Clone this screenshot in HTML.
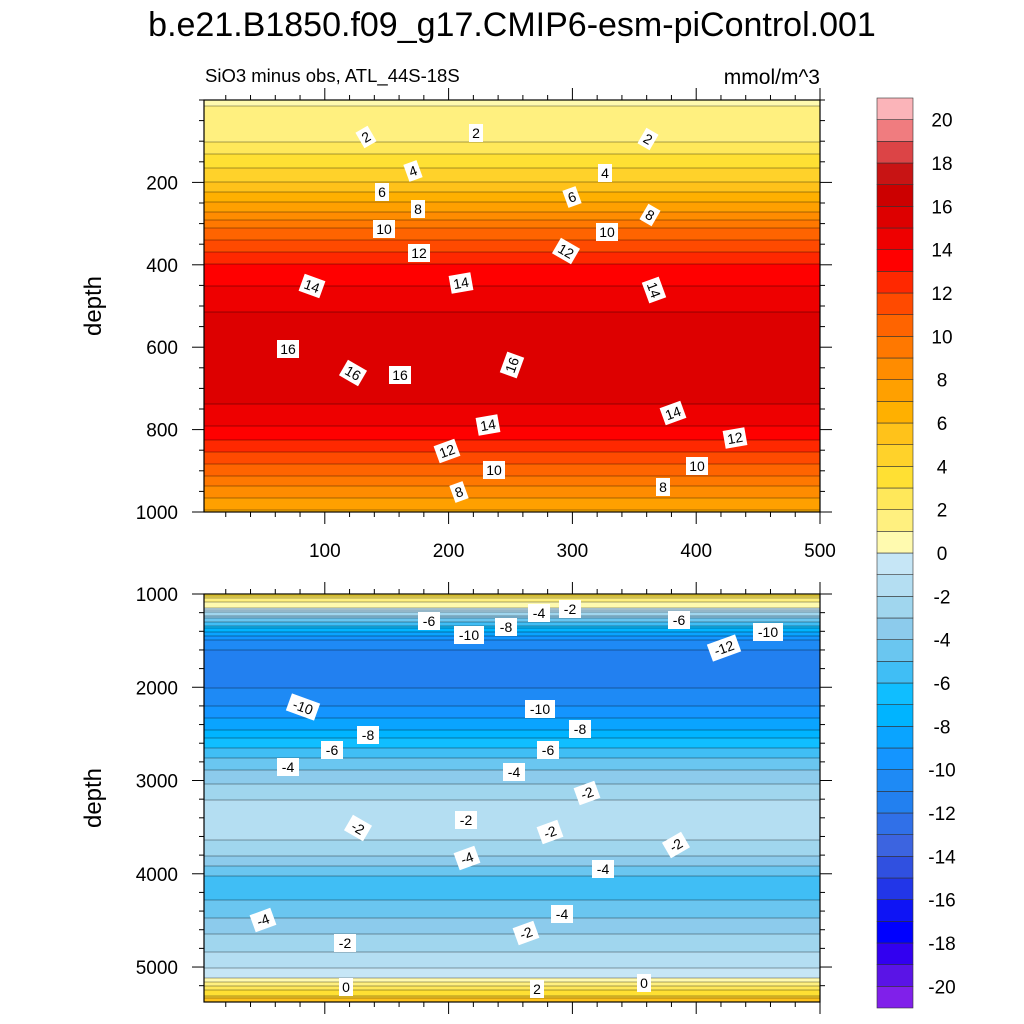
<!DOCTYPE html>
<html><head><meta charset="utf-8">
<style>
body{margin:0;background:#fff;}
svg{display:block;font-family:"Liberation Sans",sans-serif;}
</style></head>
<body>
<svg id="chart" width="1024" height="1024" viewBox="0 0 1024 1024">
<text x="512" y="36" text-anchor="middle" font-size="34">b.e21.B1850.f09_g17.CMIP6-esm-piControl.001</text>
<text x="205" y="82" font-size="18.5">SiO3 minus obs, ATL_44S-18S</text>
<text x="820" y="84" text-anchor="end" font-size="21">mmol/m^3</text>
<g id="top"></g>
<g id="bot"></g>
<g id="cbar"></g>
<text transform="translate(101,306) rotate(-90)" text-anchor="middle" font-size="24">depth</text>
<text transform="translate(101,798) rotate(-90)" text-anchor="middle" font-size="24">depth</text>
<g id="labels"></g>
</svg>
<script>
// colour levels from -21 to 21 (one unit each, bottom to top)
const levelColors = ["#8020EA","#5A14E6","#3200F0","#0000FF","#0E14F5","#2236E8","#3050E0","#3C64E0","#3070E8","#2280F0","#1E8AF5","#1495FF","#0AA4FF","#00B4FF","#10BEFF","#40BEF5","#6AC6F0","#8CCBEC","#A0D6EE","#B4DEF2","#C6E6F6",
"#FFFAAF","#FFF07F","#FFE85A","#FFE033","#FFD22A","#FFC21A","#FFB000","#FFA000","#FF8C00","#FF7800","#FF6400","#FF4A00","#FF2800","#FF0000","#EE0000","#DD0000","#CC0000","#C81414","#DC4446","#F07C7F","#FBB4B9"];
const cbarTicks = [20,18,16,14,12,10,8,6,4,2,0,-2,-4,-6,-8,-10,-12,-14,-16,-18,-20];
const topDepths = [0,25,100,150,200,250,300,350,400,450,500,550,600,650,700,750,800,850,900,950,1000];
const topValues = [0.8,1.2,2,3.5,5,7,9.5,11.5,13,14,14.8,15.5,15.95,15.9,15.5,14.8,13.8,12.2,10.5,8.5,6.8];
const botDepths = [1000,1080,1140,1200,1300,1400,1500,1700,1800,1900,2000,2200,2400,2600,2800,3000,3200,3400,3600,3800,4000,4100,4200,4400,4600,4800,5000,5100,5150,5200,5300,5375];
const botValues = [4,1,0,-2,-5,-8,-10,-11.8,-11.9,-11.5,-11,-10,-8.5,-6.5,-4.5,-3.2,-2,-1.6,-1.8,-3,-4.8,-5.7,-5.4,-4.5,-3.3,-2.2,-1,-0.3,0.5,2,4,6];
const xTicks = [100,200,300,400,500];

const NS="http://www.w3.org/2000/svg";
function mk(tag,attrs,parent){const e=document.createElementNS(NS,tag);for(const k in attrs)e.setAttribute(k,attrs[k]);parent.appendChild(e);return e;}
const X0=204,X1=820;
const xScale=v=>201+v*1.238;
function interp(ds,vs,d){if(d<=ds[0])return vs[0];for(let i=1;i<ds.length;i++){if(d<=ds[i]){const t=(d-ds[i-1])/(ds[i]-ds[i-1]);return vs[i-1]+t*(vs[i]-vs[i-1]);}}return vs[vs.length-1];}
function colorFor(v){let i=Math.floor(v)+21;i=Math.max(0,Math.min(41,i));return levelColors[i];}

function panel(g,yTop,yBot,d0,d1,ds,vs,yTickVals,minorStep,xLabels){
  const ys=d=>yTop+(d-d0)/(d1-d0)*(yBot-yTop);
  let prev=null;
  for(let y=yTop;y<yBot;y+=2){
    const d=d0+(y+1-yTop)/(yBot-yTop)*(d1-d0);
    const v=interp(ds,vs,d);
    const r=mk('rect',{x:X0,y:y,width:X1-X0,height:2.3,fill:colorFor(v)},g);
    
    
    if(prev!==null&&Math.floor(prev)!==Math.floor(v)){
      const l=mk('line',{x1:X0,x2:X1,y1:y,y2:y,stroke:"#000","stroke-width":0.5,"stroke-opacity":0.7},g);
      
      
    }
    prev=v;
  }
  mk('rect',{x:X0,y:yTop,width:X1-X0,height:yBot-yTop,fill:"none",stroke:"#000","stroke-width":1.2},g);
  for(let d=d0-(d0%minorStep);d<=d1;d+=minorStep){
    if(d<d0)continue;
    const y=ys(d);const major=yTickVals.includes(d);
    mk('line',{x1:X0-(major?12:5),x2:X0,y1:y,y2:y,stroke:"#000"},g);
    mk('line',{x1:X1,x2:X1+(major?12:5),y1:y,y2:y,stroke:"#000"},g);
    if(major){const t=mk('text',{x:178,y:y+7,"text-anchor":"end","font-size":19},g);t.textContent=d;
      }
  }
  for(let xv=20;xv<=500;xv+=20){
    const x=xScale(xv);if(x<X0)continue;const major=xv%100===0;
    mk('line',{x1:x,x2:x,y1:yBot,y2:yBot+(major?12:5),stroke:"#000"},g);
    mk('line',{x1:x,x2:x,y1:yTop,y2:yTop-(major?12:5),stroke:"#000"},g);
  }
  if(xLabels){xTicks.forEach(xv=>{const t=mk('text',{x:xScale(xv),y:yBot+45,"text-anchor":"middle","font-size":19},g);t.textContent=xv;
    });}
}
panel(document.getElementById('top'),100,512,0,1000,topDepths,topValues,[200,400,600,800,1000],50,true);
panel(document.getElementById('bot'),594,1002,1000,5375,botDepths,botValues,[1000,2000,3000,4000,5000],200,false);

// colorbar
const cb=document.getElementById('cbar');
const cbTop=98,cbBot=1008,bh=(cbBot-cbTop)/42;
for(let i=0;i<42;i++){
  const r=mk('rect',{x:877,y:cbBot-(i+1)*bh,width:36,height:bh,fill:levelColors[i],stroke:"#333","stroke-width":0.6},cb);
  
  
}
cbarTicks.forEach(v=>{const y=cbBot-(v+21)*bh;const t=mk('text',{x:942,y:y+7,"text-anchor":"middle","font-size":19},cb);t.textContent=v;
  });

// contour labels
const lab=document.getElementById('labels');
const labs=[[366,137,"2",-30],[476,133,"2",0],[648,139,"2",30],[413,171,"4",-20],[605,173,"4",0],[382,192,"6",0],[572,197,"6",-20],[418,209,"8",0],[650,215,"8",30],[384,229,"10",0],[607,232,"10",0],[419,253,"12",0],[566,251,"12",30],[312,286,"14",20],[461,283,"14",-10],[654,290,"14",70],[288,349,"16",0],[353,373,"16",30],[400,375,"16",0],[512,365,"16",-70],[673,413,"14",-20],[488,425,"14",-10],[735,438,"12",-10],[447,451,"12",-20],[494,470,"10",0],[697,466,"10",0],[459,492,"8",-20],[663,487,"8",0],
[429,621,"-6",0],[469,635,"-10",0],[506,627,"-8",0],[539,613,"-4",0],[570,609,"-2",0],[679,620,"-6",0],[768,632,"-10",0],[724,648,"-12",-20],[303,707,"-10",20],[368,735,"-8",0],[540,709,"-10",0],[580,729,"-8",0],[332,750,"-6",0],[548,750,"-6",0],[288,767,"-4",0],[514,772,"-4",0],[587,793,"-2",-20],[358,828,"-2",30],[466,820,"-2",0],[550,832,"-2",-20],[676,845,"-2",-30],[467,858,"-4",-20],[603,869,"-4",0],[263,920,"-4",-20],[562,914,"-4",0],[526,933,"-2",-20],[345,943,"-2",0],[346,987,"0",0],[537,989,"2",0],[644,983,"0",0]];
labs.forEach(l=>{
  const g=mk('g',{transform:`translate(${l[0]},${l[1]}) rotate(${l[3]})`},lab);
  
  
  const w=l[2].length*8+6;
  mk('rect',{x:-w/2,y:-9,width:w,height:18,fill:"#fff"},g);
  const t=mk('text',{x:0,y:5,"text-anchor":"middle","font-size":14},g);t.textContent=l[2];
});
</script>
</body></html>
